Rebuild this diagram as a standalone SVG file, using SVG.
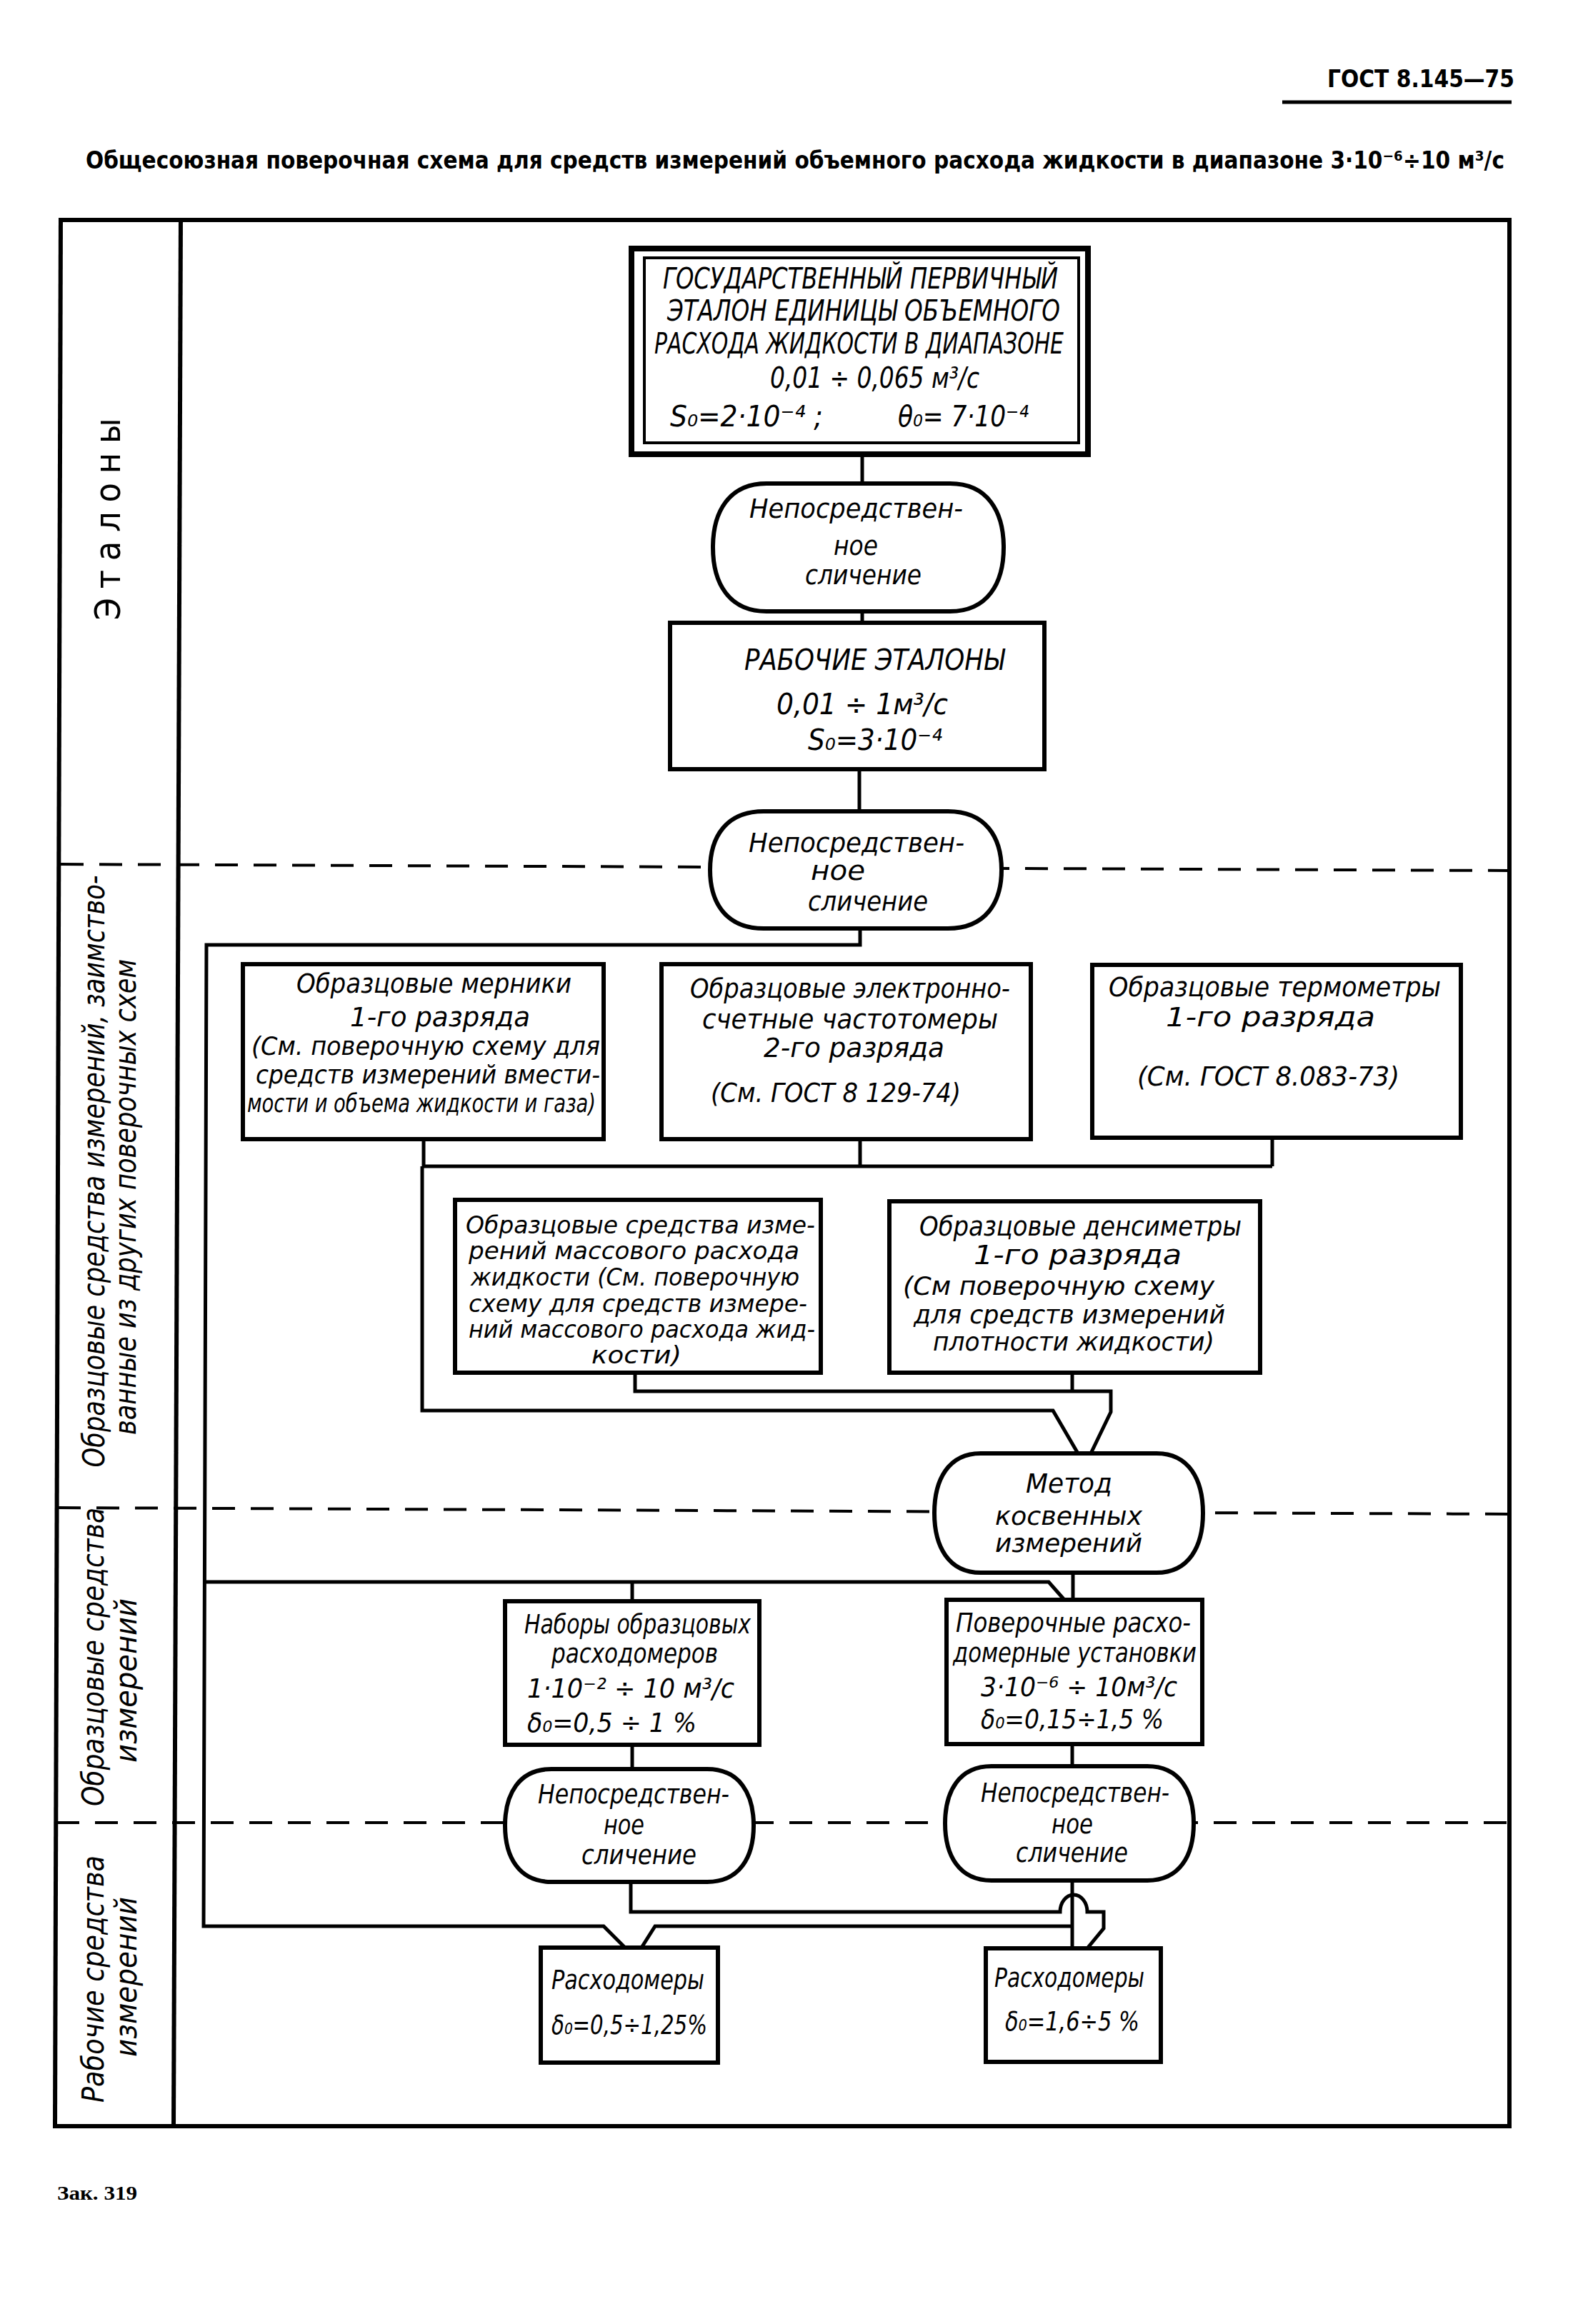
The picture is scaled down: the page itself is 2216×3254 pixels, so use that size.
<svg xmlns="http://www.w3.org/2000/svg" width="2216" height="3254" viewBox="0 0 2216 3254">
<style>
.f{fill:none;stroke:#000;stroke-width:6}
.b{fill:#fff;stroke:#000;stroke-width:6}
.c{fill:none;stroke:#000;stroke-width:5;stroke-linejoin:miter}
.d{fill:none;stroke:#000;stroke-width:4;stroke-dasharray:32 22}
.t{font-family:"DejaVu Sans Condensed","DejaVu Sans",sans-serif;font-style:italic;font-size:38px;fill:#000}
.u{font-family:"DejaVu Sans Condensed","DejaVu Sans",sans-serif;font-size:50px;fill:#000}
.h{font-family:"DejaVu Sans Condensed","DejaVu Sans",sans-serif;font-weight:bold;font-size:34px;fill:#000}
.L{font-size:42px}
.T{font-size:40px}
.s36{font-size:36px}
.s34{font-size:34px}
</style>
<rect width="2216" height="3254" fill="#fff"/>
<g id="header">
<text class="h" x="1858" y="122" textLength="262" lengthAdjust="spacingAndGlyphs">ГОСТ 8.145—75</text>
<line x1="1795" y1="143" x2="2116" y2="143" stroke="#000" stroke-width="5"/>
<text class="h" x="120" y="236" textLength="1986" lengthAdjust="spacingAndGlyphs">Общесоюзная поверочная схема для средств измерений объемного расхода жидкости в диапазоне 3·10⁻⁶÷10 м³/с</text>
<text x="80" y="3080" font-family="'Liberation Serif',serif" font-weight="bold" font-size="27" textLength="112" lengthAdjust="spacingAndGlyphs">Зак. 319</text>
</g>
<g id="frame">
<line class="f" x1="82" y1="308" x2="2116" y2="308"/>
<line class="f" x1="85" y1="305" x2="77" y2="2980"/>
<line class="f" x1="253" y1="305" x2="243" y2="2980"/>
<line class="f" x1="2113" y1="305" x2="2113" y2="2980"/>
<line class="f" x1="74" y1="2977" x2="2116" y2="2977"/>
<line class="d" x1="85" y1="1210" x2="2113" y2="1219"/>
<line class="d" x1="81" y1="2111" x2="2113" y2="2120"/>
<line class="d" x1="79" y1="2552" x2="2113" y2="2552"/>
</g>
<g id="labels">
<text class="u" transform="translate(168,727) rotate(-90)" text-anchor="middle" textLength="283" lengthAdjust="spacing">Эталоны</text>
<text class="t L" transform="translate(146,1640) rotate(-90)" text-anchor="middle" textLength="829" lengthAdjust="spacingAndGlyphs">Образцовые средства измерений, заимство-</text>
<text class="t L" transform="translate(190,1676) rotate(-90)" text-anchor="middle" textLength="666" lengthAdjust="spacingAndGlyphs">ванные из других поверочных схем</text>
<text class="t L" transform="translate(145,2320) rotate(-90)" text-anchor="middle" textLength="418" lengthAdjust="spacingAndGlyphs">Образцовые средства</text>
<text class="t L" transform="translate(191,2353) rotate(-90)" text-anchor="middle" textLength="230" lengthAdjust="spacingAndGlyphs">измерений</text>
<text class="t L" transform="translate(145,2771) rotate(-90)" text-anchor="middle" textLength="346" lengthAdjust="spacingAndGlyphs">Рабочие средства</text>
<text class="t L" transform="translate(191,2768) rotate(-90)" text-anchor="middle" textLength="224" lengthAdjust="spacingAndGlyphs">измерений</text>
</g>
<g id="connectors">
<path class="c" d="M1207,636 V677"/>
<path class="c" d="M1207,856 V872"/>
<path class="c" d="M1203,1077 V1136"/>
<path class="c" d="M1204,1300 V1323 H289 L285,2697 H845 L875,2727 M898,2727 L917,2697 H1502"/>
<path class="c" d="M287,2215 H1468 L1490,2240"/>
<path class="c" d="M885,2215 V2242"/>
<path class="c" d="M1502,2202 V2240"/>
<path class="c" d="M593,1595 V1633 M1204,1595 V1633 M1781,1593 V1633 M591,1633 H1781"/>
<path class="c" d="M591,1633 V1975 H1474 L1509,2035"/>
<path class="c" d="M889,1922 V1948 H1555 V1977 L1527,2035"/>
<path class="c" d="M1501,1922 V1948"/>
<path class="c" d="M885,2443 V2477"/>
<path class="c" d="M1501,2442 V2473"/>
<path class="c" d="M883,2635 V2677 H1484 A19 24 0 0 1 1522,2677 H1545 V2700 L1522,2728"/>
<path class="c" d="M1501,2633 V2728"/>
</g>
<g id="n-primary">
<rect x="884" y="348" width="639" height="288" fill="#fff" stroke="#000" stroke-width="8"/>
<rect x="902" y="361" width="608" height="259" fill="none" stroke="#000" stroke-width="4"/>
<text class="t T" x="928" y="404" textLength="553" lengthAdjust="spacingAndGlyphs">ГОСУДАРСТВЕННЫЙ ПЕРВИЧНЫЙ</text>
<text class="t T" x="934" y="449" textLength="550" lengthAdjust="spacingAndGlyphs">ЭТАЛОН ЕДИНИЦЫ ОБЪЕМНОГО</text>
<text class="t T" x="916" y="495" textLength="573" lengthAdjust="spacingAndGlyphs">РАСХОДА ЖИДКОСТИ В ДИАПАЗОНЕ</text>
<text class="t T" x="1078" y="543" textLength="293" lengthAdjust="spacingAndGlyphs">0,01 ÷ 0,065 м³/с</text>
<text class="t T" x="938" y="597" textLength="214" lengthAdjust="spacingAndGlyphs">S₀=2·10⁻⁴ ;</text>
<text class="t T" x="1257" y="597" textLength="183" lengthAdjust="spacingAndGlyphs">θ₀= 7·10⁻⁴</text>
</g>
<g id="n-cmp1">
<path class="b" d="M1073,677 H1330 C1382.5,677 1405,716.4 1405,766.5 C1405,816.6 1382.5,856 1330,856 H1073 C1020.5,856 998,816.6 998,766.5 C998,716.4 1020.5,677 1073,677 Z"/>
<text class="t" x="1049" y="725" textLength="299" lengthAdjust="spacingAndGlyphs">Непосредствен-</text>
<text class="t" x="1167" y="777" textLength="62" lengthAdjust="spacingAndGlyphs">ное</text>
<text class="t" x="1127" y="818" textLength="163" lengthAdjust="spacingAndGlyphs">сличение</text>
</g>
<g id="n-working">
<rect class="b" x="938" y="872" width="524" height="205"/>
<text class="t T" x="1042" y="938" textLength="364" lengthAdjust="spacingAndGlyphs">РАБОЧИЕ ЭТАЛОНЫ</text>
<text class="t T" x="1087" y="1000" textLength="240" lengthAdjust="spacingAndGlyphs">0,01 ÷ 1м³/с</text>
<text class="t T" x="1131" y="1050" textLength="188" lengthAdjust="spacingAndGlyphs">S₀=3·10⁻⁴</text>
</g>
<g id="n-cmp2">
<path class="b" d="M1069,1136 H1327 C1379.5,1136 1402,1172 1402,1218 C1402,1264 1379.5,1300 1327,1300 H1069 C1016.5,1300 994,1264 994,1218 C994,1172 1016.5,1136 1069,1136 Z"/>
<text class="t" x="1048" y="1193" textLength="302" lengthAdjust="spacingAndGlyphs">Непосредствен-</text>
<text class="t" x="1135" y="1232" textLength="76" lengthAdjust="spacingAndGlyphs">ное</text>
<text class="t" x="1131" y="1275" textLength="168" lengthAdjust="spacingAndGlyphs">сличение</text>
</g>
<g id="n-merniki">
<rect class="b" x="340" y="1350" width="505" height="245"/>
<text class="t" x="415" y="1390" textLength="385" lengthAdjust="spacingAndGlyphs">Образцовые мерники</text>
<text class="t" x="490" y="1437" textLength="252" lengthAdjust="spacingAndGlyphs">1-го разряда</text>
<text class="t s36" x="352" y="1477" textLength="488" lengthAdjust="spacingAndGlyphs">(См. поверочную схему для</text>
<text class="t s36" x="358" y="1517" textLength="482" lengthAdjust="spacingAndGlyphs">средств измерений вмести-</text>
<text class="t s36" x="346" y="1557" textLength="488" lengthAdjust="spacingAndGlyphs">мости и объема жидкости и газа)</text>
</g>
<g id="n-freq">
<rect class="b" x="926" y="1350" width="517" height="245"/>
<text class="t" x="966" y="1397" textLength="448" lengthAdjust="spacingAndGlyphs">Образцовые электронно-</text>
<text class="t" x="983" y="1440" textLength="414" lengthAdjust="spacingAndGlyphs">счетные частотомеры</text>
<text class="t" x="1069" y="1480" textLength="253" lengthAdjust="spacingAndGlyphs">2-го разряда</text>
<text class="t" x="995" y="1543" textLength="350" lengthAdjust="spacingAndGlyphs">(См. ГОСТ 8 129-74)</text>
</g>
<g id="n-thermo">
<rect class="b" x="1529" y="1351" width="516" height="242"/>
<text class="t" x="1552" y="1395" textLength="465" lengthAdjust="spacingAndGlyphs">Образцовые термометры</text>
<text class="t" x="1632" y="1437" textLength="293" lengthAdjust="spacingAndGlyphs">1-го разряда</text>
<text class="t" x="1592" y="1520" textLength="367" lengthAdjust="spacingAndGlyphs">(См. ГОСТ 8.083-73)</text>
</g>
<g id="n-mass">
<rect class="b" x="637" y="1680" width="512" height="242"/>
<text class="t s34" x="652" y="1727" textLength="489" lengthAdjust="spacingAndGlyphs">Образцовые средства изме-</text>
<text class="t s34" x="656" y="1763" textLength="463" lengthAdjust="spacingAndGlyphs">рений массового расхода</text>
<text class="t s34" x="659" y="1800" textLength="460" lengthAdjust="spacingAndGlyphs">жидкости (См. поверочную</text>
<text class="t s34" x="656" y="1837" textLength="474" lengthAdjust="spacingAndGlyphs">схему для средств измере-</text>
<text class="t s34" x="656" y="1873" textLength="485" lengthAdjust="spacingAndGlyphs">ний массового расхода жид-</text>
<text class="t s34" x="828" y="1909" textLength="126" lengthAdjust="spacingAndGlyphs">кости)</text>
</g>
<g id="n-dens">
<rect class="b" x="1245" y="1682" width="519" height="240"/>
<text class="t" x="1287" y="1730" textLength="451" lengthAdjust="spacingAndGlyphs">Образцовые денсиметры</text>
<text class="t" x="1363" y="1770" textLength="291" lengthAdjust="spacingAndGlyphs">1-го разряда</text>
<text class="t s36" x="1264" y="1813" textLength="436" lengthAdjust="spacingAndGlyphs">(См поверочную схему</text>
<text class="t s36" x="1279" y="1853" textLength="436" lengthAdjust="spacingAndGlyphs">для средств измерений</text>
<text class="t s36" x="1306" y="1891" textLength="394" lengthAdjust="spacingAndGlyphs">плотности жидкости)</text>
</g>
<g id="n-method">
<path class="b" d="M1373,2035 H1619 C1664.5,2035 1684,2072 1684,2118.5 C1684,2165 1664.5,2202 1619,2202 H1373 C1327.5,2202 1308,2165 1308,2118.5 C1308,2072 1327.5,2035 1373,2035 Z"/>
<text class="t" x="1436" y="2090" textLength="121" lengthAdjust="spacingAndGlyphs">Метод</text>
<text class="t s36" x="1393" y="2135" textLength="206" lengthAdjust="spacingAndGlyphs">косвенных</text>
<text class="t s36" x="1393" y="2173" textLength="206" lengthAdjust="spacingAndGlyphs">измерений</text>
</g>
<g id="n-sets">
<rect class="b" x="707" y="2242" width="356" height="201"/>
<text class="t" x="734" y="2287" textLength="317" lengthAdjust="spacingAndGlyphs">Наборы образцовых</text>
<text class="t" x="772" y="2328" textLength="233" lengthAdjust="spacingAndGlyphs">расходомеров</text>
<text class="t" x="738" y="2377" textLength="290" lengthAdjust="spacingAndGlyphs">1·10⁻² ÷ 10 м³/с</text>
<text class="t" x="738" y="2425" textLength="237" lengthAdjust="spacingAndGlyphs">δ₀=0,5 ÷ 1 %</text>
</g>
<g id="n-install">
<rect class="b" x="1325" y="2240" width="358" height="202"/>
<text class="t" x="1338" y="2285" textLength="329" lengthAdjust="spacingAndGlyphs">Поверочные расхо-</text>
<text class="t" x="1334" y="2327" textLength="341" lengthAdjust="spacingAndGlyphs">домерные установки</text>
<text class="t" x="1373" y="2375" textLength="275" lengthAdjust="spacingAndGlyphs">3·10⁻⁶ ÷ 10м³/с</text>
<text class="t" x="1373" y="2420" textLength="256" lengthAdjust="spacingAndGlyphs">δ₀=0,15÷1,5 %</text>
</g>
<g id="n-cmp3">
<path class="b" d="M772,2477 H990 C1035.5,2477 1055,2511.8 1055,2556 C1055,2600.2 1035.5,2635 990,2635 H772 C726.5,2635 707,2600.2 707,2556 C707,2511.8 726.5,2477 772,2477 Z"/>
<text class="t" x="753" y="2525" textLength="268" lengthAdjust="spacingAndGlyphs">Непосредствен-</text>
<text class="t" x="845" y="2568" textLength="57" lengthAdjust="spacingAndGlyphs">ное</text>
<text class="t" x="814" y="2610" textLength="161" lengthAdjust="spacingAndGlyphs">сличение</text>
</g>
<g id="n-cmp4">
<path class="b" d="M1388,2473 H1606 C1651.5,2473 1671,2508.2 1671,2553 C1671,2597.8 1651.5,2633 1606,2633 H1388 C1342.5,2633 1323,2597.8 1323,2553 C1323,2508.2 1342.5,2473 1388,2473 Z"/>
<text class="t" x="1373" y="2523" textLength="264" lengthAdjust="spacingAndGlyphs">Непосредствен-</text>
<text class="t" x="1472" y="2567" textLength="58" lengthAdjust="spacingAndGlyphs">ное</text>
<text class="t" x="1422" y="2607" textLength="157" lengthAdjust="spacingAndGlyphs">сличение</text>
</g>
<g id="n-meter1">
<rect class="b" x="757" y="2727" width="248" height="161"/>
<text class="t" x="772" y="2785" textLength="214" lengthAdjust="spacingAndGlyphs">Расходомеры</text>
<text class="t" x="772" y="2848" textLength="218" lengthAdjust="spacingAndGlyphs">δ₀=0,5÷1,25%</text>
</g>
<g id="n-meter2">
<rect class="b" x="1380" y="2728" width="245" height="159"/>
<text class="t" x="1392" y="2782" textLength="210" lengthAdjust="spacingAndGlyphs">Расходомеры</text>
<text class="t" x="1407" y="2843" textLength="188" lengthAdjust="spacingAndGlyphs">δ₀=1,6÷5 %</text>
</g>
</svg>
